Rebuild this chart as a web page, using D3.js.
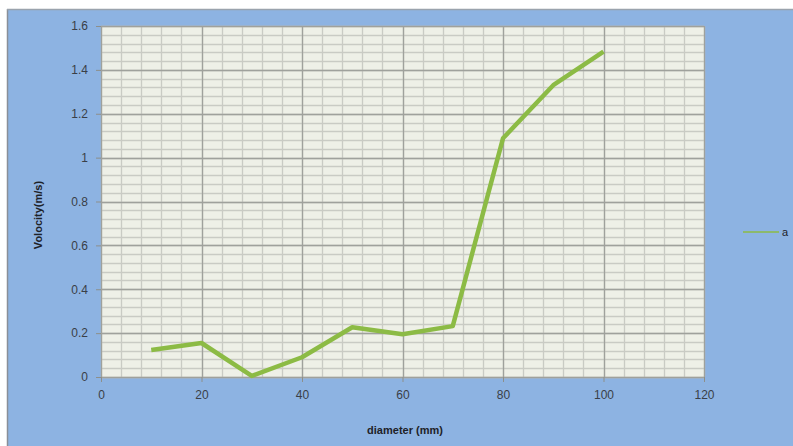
<!DOCTYPE html>
<html>
<head>
<meta charset="utf-8">
<script src="https://cdn.jsdelivr.net/npm/d3@7/dist/d3.min.js"></script>
<style>
  html, body { margin: 0; padding: 0; background: #fff; }
  svg { display: block; }
</style>
</head>
<body>
<svg id="chart" width="793" height="446"></svg>
<script>
const diameters = [10, 20, 30, 40, 50, 60, 70, 80, 90, 100];
const velocities = [0.123, 0.155, 0.005, 0.09, 0.227, 0.195, 0.232, 1.088, 1.33, 1.483];
const xTicks = [0, 20, 40, 60, 80, 100, 120];
const yTicks = [0, 0.2, 0.4, 0.6, 0.8, 1, 1.2, 1.4, 1.6];
const seriesName = "a";
const xTitle = "diameter (mm)";
const yTitle = "Volocity(m/s)";

const svg = d3.select("#chart");
const W = 793, H = 446;
const plot = { left: 101, top: 26, right: 704, bottom: 377 };

// background
svg.append("rect").attr("x", 7).attr("y", 9).attr("width", W - 7).attr("height", H - 9)
  .attr("fill", "#8db3e2");
svg.append("line").attr("x1", 7.5).attr("x2", 7.5).attr("y1", 9).attr("y2", H).attr("stroke", "#8a8f98").attr("stroke-width", 1.5);
svg.append("line").attr("x1", 7).attr("x2", W).attr("y1", 9.5).attr("y2", 9.5).attr("stroke", "#9aa3ad").attr("stroke-width", 1.5);

const x = d3.scaleLinear().domain([0, 120]).range([plot.left, plot.right]);
const y = d3.scaleLinear().domain([0, 1.6]).range([plot.bottom, plot.top]);

svg.append("rect").attr("x", plot.left).attr("y", plot.top)
  .attr("width", plot.right - plot.left).attr("height", plot.bottom - plot.top)
  .attr("fill", "#eef0e7");

const g = svg.append("g");
// minor grid
const xMinor = d3.range(0, 120.001, 4);
const yMinor = d3.range(0, 1.6001, 0.04);
g.selectAll(".hminor").data(yMinor).join("line")
  .attr("x1", plot.left).attr("x2", plot.right)
  .attr("y1", d => Math.round(y(d)) + 0.5).attr("y2", d => Math.round(y(d)) + 0.5)
  .attr("stroke", "#c9cbc4").attr("stroke-width", 1.3);
g.selectAll(".vminor").data(xMinor).join("line")
  .attr("y1", plot.top).attr("y2", plot.bottom)
  .attr("x1", d => Math.round(x(d)) + 0.5).attr("x2", d => Math.round(x(d)) + 0.5)
  .attr("stroke", "#c9cbc4").attr("stroke-width", 1.3);
// major grid
g.selectAll(".hmajor").data(yTicks).join("line")
  .attr("x1", plot.left).attr("x2", plot.right)
  .attr("y1", d => Math.round(y(d)) + 0.5).attr("y2", d => Math.round(y(d)) + 0.5)
  .attr("stroke", "#9fa19c").attr("stroke-width", 1.3);
g.selectAll(".vmajor").data(xTicks).join("line")
  .attr("y1", plot.top).attr("y2", plot.bottom)
  .attr("x1", d => Math.round(x(d)) + 0.5).attr("x2", d => Math.round(x(d)) + 0.5)
  .attr("stroke", "#9fa19c").attr("stroke-width", 1.3);

// axes
const xAxis = d3.axisBottom(x).tickValues(xTicks).tickSize(5).tickPadding(8).tickFormat(d3.format("d"));
const yAxis = d3.axisLeft(y).tickValues(yTicks).tickSize(5).tickPadding(8).tickFormat(d => d3.format("")(+d.toFixed(1)));

const xg = svg.append("g").attr("transform", `translate(0,${plot.bottom})`).call(xAxis);
const yg = svg.append("g").attr("transform", `translate(${plot.left},0)`).call(yAxis);
[xg, yg].forEach(a => {
  a.select(".domain").attr("stroke", "#8d8f8a");
  a.selectAll(".tick line").attr("stroke", "#8d8f8a");
  a.selectAll("text").attr("fill", "#3a3f47").attr("font-family", "Liberation Sans, Arial, sans-serif").attr("font-size", 12);
});
xg.select(".domain").remove();
yg.select(".domain").remove();

// line
const line = d3.line().x((d, i) => x(diameters[i])).y(d => y(d));
svg.append("path").datum(velocities)
  .attr("d", line)
  .attr("fill", "none")
  .attr("stroke", "#8cbb45")
  .attr("stroke-width", 4.5)
  .attr("stroke-linejoin", "round");

// titles
svg.append("text").attr("x", 405).attr("y", 434).attr("text-anchor", "middle")
  .attr("font-family", "Liberation Sans, Arial, sans-serif").attr("font-size", 11).attr("font-weight", "bold")
  .attr("fill", "#1e2228").text(xTitle);
svg.append("text").attr("transform", "translate(42,215) rotate(-90)").attr("text-anchor", "middle")
  .attr("font-family", "Liberation Sans, Arial, sans-serif").attr("font-size", 11).attr("font-weight", "bold")
  .attr("fill", "#1e2228").text(yTitle);

// legend
svg.append("line").attr("x1", 743).attr("x2", 779).attr("y1", 232).attr("y2", 232)
  .attr("stroke", "#8cbb45").attr("stroke-width", 1.5);
svg.append("text").attr("x", 782).attr("y", 236)
  .attr("font-family", "Liberation Sans, Arial, sans-serif").attr("font-size", 11)
  .attr("fill", "#1e2228").text(seriesName);
</script>
</body>
</html>
